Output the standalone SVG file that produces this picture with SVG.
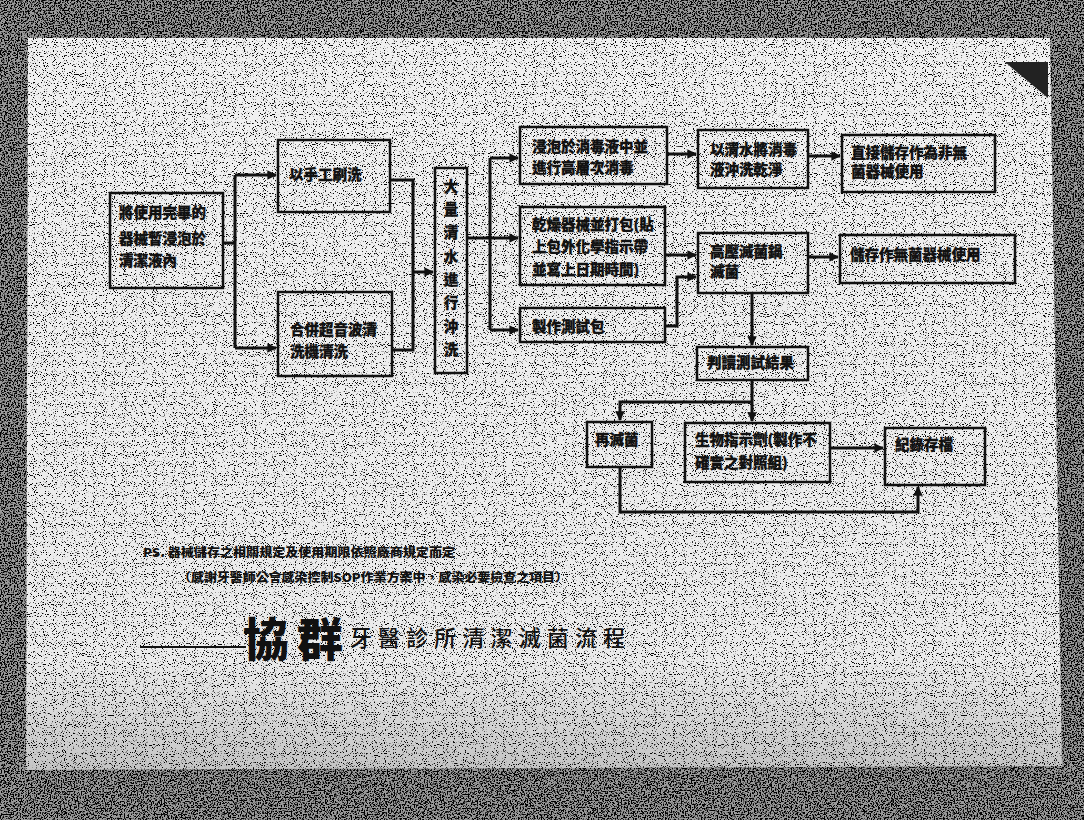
<svg xmlns="http://www.w3.org/2000/svg" width="1084" height="820" viewBox="0 0 1084 820">
<defs>
<style>
.box{fill:none;stroke:#111;stroke-width:2.5}
.t{font-family:"Noto Sans CJK TC","Noto Sans CJK SC",sans-serif;font-size:14.5px;font-weight:900;fill:#111;stroke:#111;stroke-width:0.3}
.c{fill:none;stroke:#111;stroke-width:3;stroke-linejoin:miter}
</style>
<marker id="ah" viewBox="0 0 10 10" refX="9" refY="5" markerWidth="3.2" markerHeight="3.2" orient="auto" markerUnits="strokeWidth">
<path d="M0,0 L10,5 L0,10 z" fill="#111"/>
</marker>
<filter id="grain" x="0" y="0" width="100%" height="100%">
<feTurbulence type="fractalNoise" baseFrequency="0.9" numOctaves="1" seed="7" result="n"/>
<feColorMatrix in="n" type="matrix" values="0 0 0 0 0  0 0 0 0 0  0 0 0 0 0  -12 0 0 0 4.9"/>
</filter>
<filter id="grainDark" x="0" y="0" width="100%" height="100%">
<feTurbulence type="fractalNoise" baseFrequency="0.7" numOctaves="2" seed="2" result="n"/>
<feColorMatrix in="n" type="matrix" values="0 0 0 0 0  0 0 0 0 0  0 0 0 0 0  -8 0 0 0 4.2"/>
</filter>
<linearGradient id="pg" x1="0" y1="0" x2="0" y2="1">
<stop offset="0" stop-color="#f0f0f0"/>
<stop offset="0.85" stop-color="#ebebeb"/>
<stop offset="1" stop-color="#c4c4c4"/>
</linearGradient>
<clipPath id="pageClip"><polygon points="28,38 1050,38 1062,766 26,770"/></clipPath>
</defs>

<!-- background / photocopy frame -->
<rect x="0" y="0" width="1084" height="820" fill="#9a9a9a"/>
<rect x="0" y="0" width="1084" height="820" filter="url(#grainDark)"/>
<polygon points="28,38 1050,38 1062,766 26,770" fill="url(#pg)"/>
<g clip-path="url(#pageClip)"><rect x="0" y="0" width="1084" height="820" filter="url(#grain)"/></g>
<polygon points="1005,62 1048,62 1048,98" fill="#222"/>

<!-- connectors -->
<g id="connectors">
<path class="c" d="M223,243 H235"/>
<path class="c" d="M235,175 V348"/>
<path class="c" d="M235,175 H276" marker-end="url(#ah)"/>
<path class="c" d="M235,348 H276" marker-end="url(#ah)"/>
<path class="c" d="M390,180 H413 V350 H392"/>
<path class="c" d="M413,272 H433" marker-end="url(#ah)"/>
<path class="c" d="M467,238 H490"/>
<path class="c" d="M490,158 V330"/>
<path class="c" d="M490,158 H518" marker-end="url(#ah)"/>
<path class="c" d="M490,238 H518" marker-end="url(#ah)"/>
<path class="c" d="M490,330 H518" marker-end="url(#ah)"/>
<path class="c" d="M667,154 H696" marker-end="url(#ah)"/>
<path class="c" d="M808,156 H840" marker-end="url(#ah)"/>
<path class="c" d="M665,255 H696" marker-end="url(#ah)"/>
<path class="c" d="M665,326 H677 V277 H696" marker-end="url(#ah)"/>
<path class="c" d="M808,257 H838" marker-end="url(#ah)"/>
<path class="c" d="M752,293 V345" marker-end="url(#ah)"/>
<path class="c" d="M752,380 V421" marker-end="url(#ah)"/>
<path class="c" d="M752,402 H620 V420" marker-end="url(#ah)"/>
<path class="c" d="M830,448 H883" marker-end="url(#ah)"/>
<path class="c" d="M620,467 V512 H918 V487" marker-end="url(#ah)"/>
</g>

<!-- nodes -->
<g id="n1"><rect class="box" x="110" y="193" width="113" height="95"/>
<text class="t" x="119" y="218">將使用完畢的</text>
<text class="t" x="119" y="244">器械暫浸泡於</text>
<text class="t" x="119" y="266">清潔液內</text></g>

<g id="n2"><rect class="box" x="278" y="140" width="112" height="72"/>
<text class="t" x="289" y="180">以手工刷洗</text></g>

<g id="n3"><rect class="box" x="278" y="292" width="114" height="84"/>
<text class="t" x="290" y="335">合併超音波清</text>
<text class="t" x="290" y="357">洗機清洗</text></g>

<g id="n4"><rect class="box" x="435" y="168" width="32" height="205"/>
<g text-anchor="middle">
<text class="t" x="451" y="192">大</text>
<text class="t" x="451" y="215">量</text>
<text class="t" x="451" y="238">清</text>
<text class="t" x="451" y="262">水</text>
<text class="t" x="451" y="285">進</text>
<text class="t" x="451" y="308">行</text>
<text class="t" x="451" y="332">沖</text>
<text class="t" x="451" y="355">洗</text></g></g>

<g id="n5"><rect class="box" x="520" y="127" width="147" height="57"/>
<text class="t" x="532" y="152">浸泡於消毒液中並</text>
<text class="t" x="532" y="173">進行高層次消毒</text></g>

<g id="n6"><rect class="box" x="698" y="130" width="110" height="58"/>
<text class="t" x="710" y="155">以清水將消毒</text>
<text class="t" x="710" y="175">液沖洗乾淨</text></g>

<g id="n7"><rect class="box" x="842" y="135" width="153" height="57"/>
<text class="t" x="851" y="158">直接儲存作為非無</text>
<text class="t" x="851" y="177">菌器械使用</text></g>

<g id="n8"><rect class="box" x="520" y="207" width="145" height="78"/>
<text class="t" x="532" y="230">乾燥器械並打包(貼</text>
<text class="t" x="532" y="252">上包外化學指示帶</text>
<text class="t" x="532" y="275">並寫上日期時間)</text></g>

<g id="n9"><rect class="box" x="520" y="308" width="145" height="34"/>
<text class="t" x="532" y="332">製作測試包</text></g>

<g id="n10"><rect class="box" x="698" y="233" width="110" height="60"/>
<text class="t" x="710" y="257">高壓滅菌鍋</text>
<text class="t" x="710" y="277">滅菌</text></g>

<g id="n11"><rect class="box" x="840" y="235" width="175" height="48"/>
<text class="t" x="850" y="260">儲存作無菌器械使用</text></g>

<g id="n12"><rect class="box" x="697" y="347" width="111" height="33"/>
<text class="t" x="707" y="368">判讀測試結果</text></g>

<g id="n13"><rect class="box" x="587" y="422" width="65" height="45"/>
<text class="t" x="595" y="445">再滅菌</text></g>

<g id="n14"><rect class="box" x="685" y="423" width="145" height="59"/>
<text class="t" x="695" y="445">生物指示劑(製作不</text>
<text class="t" x="695" y="468">確實之對照組)</text></g>

<g id="n15"><rect class="box" x="885" y="428" width="100" height="57"/>
<text class="t" x="895" y="450">紀錄存檔</text></g>

<!-- footer notes -->
<g id="notes" font-family="Noto Sans CJK TC, Noto Sans CJK SC, sans-serif" font-weight="900" fill="#111">
<text x="143" y="557" font-size="12" textLength="312" lengthAdjust="spacingAndGlyphs">PS. 器械儲存之相關規定及使用期限依照廠商規定而定</text>
<text x="178" y="582" font-size="12" textLength="390" lengthAdjust="spacingAndGlyphs">（感謝牙醫師公會感染控制SOP作業方案中，感染必要檢查之項目）</text>
</g>

<!-- title -->
<g id="title">
<line x1="140" y1="647" x2="246" y2="647" stroke="#111" stroke-width="2"/>
<text x="243" y="656" font-family="Noto Sans CJK TC, Noto Sans CJK SC, sans-serif" font-size="46" font-weight="900" fill="#111" letter-spacing="8">協群</text>
<text x="350" y="646" font-family="Noto Sans CJK TC, Noto Sans CJK SC, sans-serif" font-size="22" font-weight="500" fill="#111" textLength="275" lengthAdjust="spacing">牙醫診所清潔滅菌流程</text>
</g>
</svg>
